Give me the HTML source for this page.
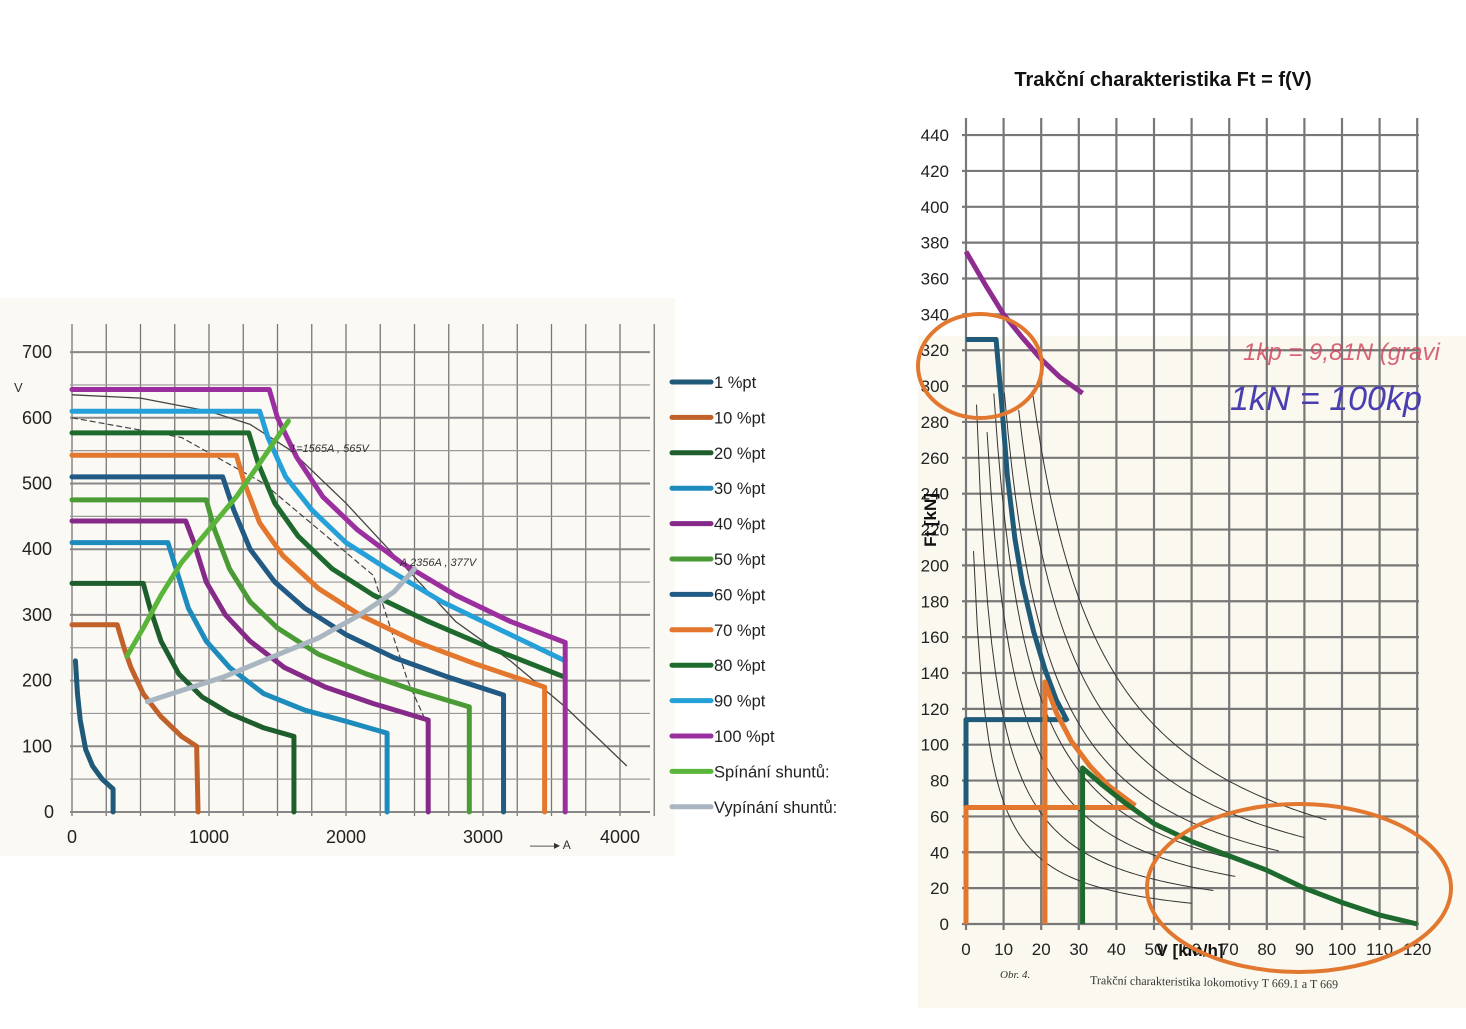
<!DOCTYPE html>
<html><head><meta charset="utf-8">
<style>
html,body{margin:0;padding:0;background:#fff;}
body{width:1466px;height:1024px;overflow:hidden;font-family:"Liberation Sans",sans-serif;}
</style></head>
<body>
<svg id="s" width="1466" height="1024" xmlns="http://www.w3.org/2000/svg" font-family="Liberation Sans, sans-serif">
<rect x="0" y="298" width="675" height="558" fill="#fbf9f4"/>
<rect x="918" y="336" width="548" height="672" fill="#faf8ef"/>
<g id="lg"></g>
<g id="rg"></g>
<g id="lc"></g>
<g id="rc"></g>
<text x="1163" y="86" text-anchor="middle" font-size="20" font-weight="bold" fill="#111">Trakční charakteristika Ft = f(V)</text>
<text x="1243" y="360" font-size="24" fill="#d0405a" font-style="italic" opacity="0.8">1kp = 9,81N (gravi</text>
<text x="1230" y="410" font-size="34" fill="#4a3fb0" font-style="italic">1kN = 100kp</text>
<text x="1190" y="956" text-anchor="middle" font-size="17" font-weight="bold" fill="#111">V [km/h]</text>
<text transform="translate(936,520) rotate(-90)" text-anchor="middle" font-size="17" font-weight="bold" fill="#111">Ft [kN]</text>
<text x="1000" y="978" font-size="11" font-family="Liberation Serif, serif" font-style="italic" fill="#333">Obr. 4.</text>
<text x="1090" y="984" font-size="12" font-family="Liberation Serif, serif" fill="#333" transform="rotate(1 1090 984)">Trakční charakteristika lokomotivy T 669.1 a T 669</text>
<text x="290" y="452" font-size="11" font-style="italic" fill="#333">1=1565A , 565V</text>
<text x="400" y="566" font-size="11" font-style="italic" fill="#333">A 2356A , 377V</text>
<text x="530" y="849" font-size="12" fill="#333">——▸ A</text>
<text x="14" y="392" font-size="13" fill="#333">V</text>
<ellipse cx="980" cy="366" rx="62" ry="52" fill="none" stroke="#e2772f" stroke-width="4"/>
<ellipse cx="1299" cy="888" rx="152" ry="84" fill="none" stroke="#e2772f" stroke-width="4"/>
<g id="leg" font-size="16" fill="#222"></g>
</svg>
<script>
var NS="http://www.w3.org/2000/svg";
function el(p,t,a,txt){var e=document.createElementNS(NS,t);for(var k in a)e.setAttribute(k,a[k]);if(txt!=null)e.textContent=txt;document.getElementById(p).appendChild(e);return e;}
function lx(a){return 72+a*0.137;} function ly(v){return 812-v*0.657;}
for(var a=0;a<=4250;a+=250){el('lg','line',{x1:lx(a),y1:324,x2:lx(a),y2:816,stroke:'#777','stroke-width':1.3});}
for(var v=0;v<=750;v+=50){if(ly(v)<322)continue;el('lg','line',{x1:70,y1:ly(v),x2:650,y2:ly(v),stroke:(v%100==0?'#888':'#999'),'stroke-width':(v%100==0?2:1.2)});}
for(var v=0;v<=700;v+=100){el('lg','text',{x:v==0?44:22,y:ly(v)+6,'font-size':18,fill:'#222'},String(v));}
for(var a=0;a<=4000;a+=1000){el('lg','text',{x:lx(a),y:843,'font-size':18,fill:'#222','text-anchor':'middle'},String(a));}
el('lg','polyline',{points:[[0,635],[500,630],[1000,610],[1300,590],[1600,550],[2000,470],[2400,380],[2800,290],[3200,230],[3600,160],[4050,70]].map(function(p){return lx(p[0])+','+ly(p[1])}).join(' '),fill:'none',stroke:'#444','stroke-width':1.3});
el('lg','polyline',{points:[[0,600],[800,570],[1400,500],[1800,430],[2200,360],[2450,200],[2600,130]].map(function(p){return lx(p[0])+','+ly(p[1])}).join(' '),fill:'none',stroke:'#444','stroke-width':1.2,'stroke-dasharray':'6,3'});
var L=[
['#1f5a78',[[25,230],[40,180],[60,140],[100,95],[150,70],[220,50],[300,35],[300,0]]],
['#c0622a',[[0,285],[330,285],[380,250],[430,220],[520,180],[650,145],[800,115],[910,100],[920,0]]],
['#1e5e2c',[[0,348],[520,348],[570,310],[650,260],[780,210],[950,175],[1150,150],[1400,128],[1620,115],[1620,0]]],
['#1e8bbd',[[0,410],[700,410],[760,370],[850,310],[980,260],[1150,220],[1400,180],[1700,155],[2000,138],[2300,120],[2300,0]]],
['#852a88',[[0,443],[830,443],[890,410],[980,350],[1120,300],[1300,260],[1550,220],[1850,190],[2200,165],[2600,140],[2600,0]]],
['#4a9a35',[[0,475],[980,475],[1040,430],[1150,370],[1300,320],[1500,280],[1800,240],[2150,210],[2500,185],[2900,160],[2900,0]]],
['#215a84',[[0,510],[1100,510],[1180,460],[1300,400],[1480,350],[1700,310],[2000,270],[2350,235],[2750,205],[3150,178],[3150,0]]],
['#e3772e',[[0,543],[1200,543],[1260,500],[1370,440],[1540,390],[1800,340],[2100,300],[2500,260],[2950,225],[3450,190],[3450,0]]],
['#1e6a2e',[[0,577],[1290,577],[1360,530],[1480,470],[1650,420],[1900,370],[2200,330],[2600,290],[3050,250],[3600,205]]],
['#25a0d8',[[0,610],[1370,610],[1430,570],[1560,510],[1750,460],[2000,410],[2300,370],[2700,320],[3150,275],[3600,230]]],
['#9b2fa0',[[0,643],[1440,643],[1500,600],[1640,540],[1830,480],[2080,430],[2400,380],[2800,330],[3200,290],[3600,258],[3600,0]]],
['#5bb53a',[[400,237],[520,280],[650,330],[800,380],[1000,430],[1200,480],[1400,540],[1580,595]]],
['#a9b5c0',[[550,168],[800,185],[1100,205],[1450,235],[1800,265],[2100,300],[2350,335],[2500,370]]]
];
L.forEach(function(s){el('lc','polyline',{points:s[1].map(function(p){return lx(p[0])+','+ly(p[1])}).join(' '),fill:'none',stroke:s[0],'stroke-width':5,'stroke-linejoin':'round','stroke-linecap':'round'});});
var names=['1 %pt','10 %pt','20 %pt','30 %pt','40 %pt','50 %pt','60 %pt','70 %pt','80 %pt','90 %pt','100 %pt','Spínání shuntů:','Vypínání shuntů:'];
names.forEach(function(n,i){var y=382+i*35.4;el('leg','line',{x1:672,y1:y,x2:711,y2:y,stroke:L[i][0],'stroke-width':5,'stroke-linecap':'round'});el('leg','text',{x:714,y:y+6,'font-size':16.5,fill:'#222'},n);});
function rx(v){return 966+v*3.76;} function ry(f){return 924-f*1.793;}
for(var v=0;v<=120;v+=10){el('rg','line',{x1:rx(v),y1:118,x2:rx(v),y2:930,stroke:'#777','stroke-width':2.2});}
for(var f=0;f<=440;f+=20){el('rg','line',{x1:962,y1:ry(f),x2:1419,y2:ry(f),stroke:'#777','stroke-width':2.2});el('rg','text',{x:949,y:ry(f)+6,'font-size':17,fill:'#222','text-anchor':'end'},String(f));}
for(var v=0;v<=120;v+=10){el('rg','text',{x:rx(v),y:955,'font-size':17,fill:'#222','text-anchor':'middle'},String(v));}
[[60],[100],[150],[200],[260],[330],[420]].forEach(function(k,i){var pts=[];for(var v=2+i*0.8;v<=60+i*6;v+=1){var f=k[0]*14/(v+2)-2;if(f>300)continue;if(f<0)break;pts.push(rx(v)+','+ry(f));}el('rg','polyline',{points:pts.join(' '),fill:'none',stroke:'#333','stroke-width':1});});
var R=[
['#8e2c8f',[[0,375],[5,357],[10,340],[15,327],[20,315],[25,305],[31,296]]],
['#1f5a78',[[0,326],[8,326],[9.5,290],[11,250],[13,215],[15,190],[18,163],[21,142],[24,125],[27,113]]],
['#1f5a78',[[0,62],[0,114],[27,114]]],
['#e3772e',[[0,0],[0,65],[45,65]]],
['#e3772e',[[21,0],[21,135],[24,118],[28,102],[33,88],[38,77],[45,66]]],
['#1e6a2e',[[31,0],[31,87],[36,78],[42,68],[50,56],[60,46],[70,38],[80,30],[90,20],[100,12],[110,5],[120,0]]]
];
R.forEach(function(s){el('rc','polyline',{points:s[1].map(function(p){return rx(p[0])+','+ry(p[1])}).join(' '),fill:'none',stroke:s[0],'stroke-width':5,'stroke-linejoin':'round'});});
</script>
</body></html>
